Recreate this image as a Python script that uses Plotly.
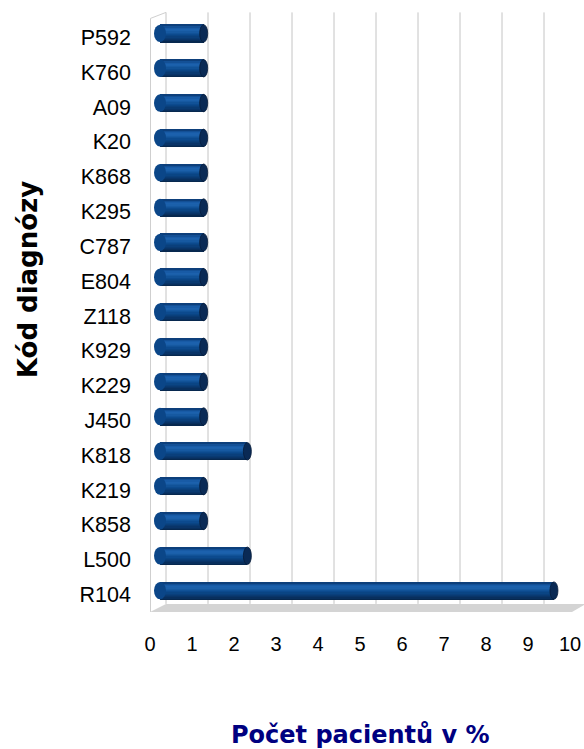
import plotly.graph_objects as go

# Diagnosis codes, top row first, and share of patients (%)
codes = ["P592", "K760", "A09", "K20", "K868", "K295", "C787", "E804", "Z118",
         "K929", "K229", "J450", "K818", "K219", "K858", "L500", "R104"]
shares = [1.04, 1.04, 1.04, 1.04, 1.04, 1.04, 1.04, 1.04, 1.04,
          1.04, 1.04, 1.04, 2.08, 1.04, 1.04, 2.08, 9.38]
x_ticks = list(range(0, 11))

# category axis runs bottom-up, so reverse the lists
cats = codes[::-1]
vals = shares[::-1]
idx = list(range(len(cats)))

W, H = 584, 749
L, R, T, B = 150, 0, 15.6, 140.9
plot_w = W - L - R
plot_h = H - T - B
PX_PER_UNIT = 42.0
x0_px = 10.0  # pixel position of value 0 inside the plot area

def px(xp):
    return (xp - L) / plot_w

def py(yp):
    return (H - B - yp) / plot_h

HALF = 0.25  # half bar thickness in category units

fig = go.Figure()

# cylinder shading built from thin overlaid strips, bottom to top
stops = [(0.00, (6, 36, 72)), (0.12, (8, 48, 96)), (0.45, (11, 73, 140)),
         (0.72, (30, 100, 176)), (0.86, (22, 88, 162)), (1.00, (10, 55, 110))]

def shade(t):
    for (t0, c0), (t1, c1) in zip(stops[:-1], stops[1:]):
        if t0 <= t <= t1:
            f = (t - t0) / (t1 - t0) if t1 > t0 else 0
            c = [round(a + (b - a) * f) for a, b in zip(c0, c1)]
            return "rgb(%d,%d,%d)" % tuple(c)
    return "rgb(%d,%d,%d)" % stops[-1][1]

N = 14
step = 2 * HALF / N
for k in range(N):
    t = (k + 0.5) / N
    fig.add_trace(go.Bar(
        x=vals, y=idx, orientation="h",
        offset=-HALF + k * step, width=step * 1.15,
        marker=dict(color=shade(t), line=dict(width=0)),
        hoverinfo="skip", showlegend=False,
    ))

shapes = []

# floor of the 3D box
floor = [(150, 612), (166, 604), (586, 604), (572, 612)]
shapes.append(dict(
    type="path", xref="paper", yref="paper", layer="below",
    path="M " + " L ".join("%f,%f" % (px(a), py(b)) for a, b in floor) + " Z",
    fillcolor="#d4d4d4", line=dict(width=0),
))

# back-wall gridlines
for v in x_ticks:
    shapes.append(dict(
        type="line", xref="x", yref="paper", layer="below",
        xsizemode="pixel", xanchor=v, x0=6, x1=6,
        y0=py(604), y1=py(12),
        line=dict(color="#c4c4c4", width=1),
    ))

# left side wall edges
shapes.append(dict(
    type="path", xref="paper", yref="paper", layer="below",
    path="M %f,%f L %f,%f L %f,%f" % (px(150.5), py(612), px(150.5), py(18), px(166), py(12)),
    line=dict(color="#cfcfcf", width=1),
))

# rounded front of each cylinder and its dark end cap
for i, v in zip(idx, vals):
    shapes.append(dict(
        type="circle", xref="x", yref="y", layer="above",
        xsizemode="pixel", xanchor=0, x0=-6, x1=6,
        y0=i - HALF, y1=i + HALF,
        fillcolor="#0b4688", line=dict(width=0),
    ))
    shapes.append(dict(
        type="circle", xref="x", yref="y", layer="above",
        xsizemode="pixel", xanchor=v, x0=-4, x1=4,
        y0=i - HALF, y1=i + HALF,
        fillcolor="#0a2a55", line=dict(color="#061c3a", width=0.8),
    ))

fig.update_layout(
    width=W, height=H,
    margin=dict(l=L, r=R, t=T, b=B, pad=0),
    paper_bgcolor="white", plot_bgcolor="white",
    barmode="overlay", bargap=0,
    shapes=shapes,
    font=dict(family="Liberation Sans", color="black"),
    xaxis=dict(
        range=[-x0_px / PX_PER_UNIT, (plot_w - x0_px) / PX_PER_UNIT],
        tickvals=x_ticks, ticktext=[str(v) for v in x_ticks],
        showgrid=False, zeroline=False, showline=False, ticks="",
        tickfont=dict(size=20, family="Liberation Sans"),
        ticklabelshift=-10, ticklabelstandoff=22,
        fixedrange=True,
    ),
    yaxis=dict(
        range=[-0.5, len(cats) - 0.5],
        tickvals=idx, ticktext=cats,
        showgrid=False, zeroline=False, showline=False, ticks="",
        tickfont=dict(size=21.5, family="Liberation Sans"),
        ticklabelstandoff=18, ticklabelshift=4,
        fixedrange=True,
    ),
    annotations=[
        dict(text="Počet pacientů v %", xref="paper", yref="paper",
             x=px(360), y=py(735), xanchor="center", yanchor="middle",
             showarrow=False,
             font=dict(size=24, family="DejaVu Sans", color="#000080", weight="bold")),
        dict(text="Kód diagnózy", xref="paper", yref="paper",
             x=px(28), y=py(280), xanchor="center", yanchor="middle",
             textangle=-90, showarrow=False,
             font=dict(size=26, family="DejaVu Sans", color="black", weight="bold")),
    ],
)

fig.write_html("out.html")
